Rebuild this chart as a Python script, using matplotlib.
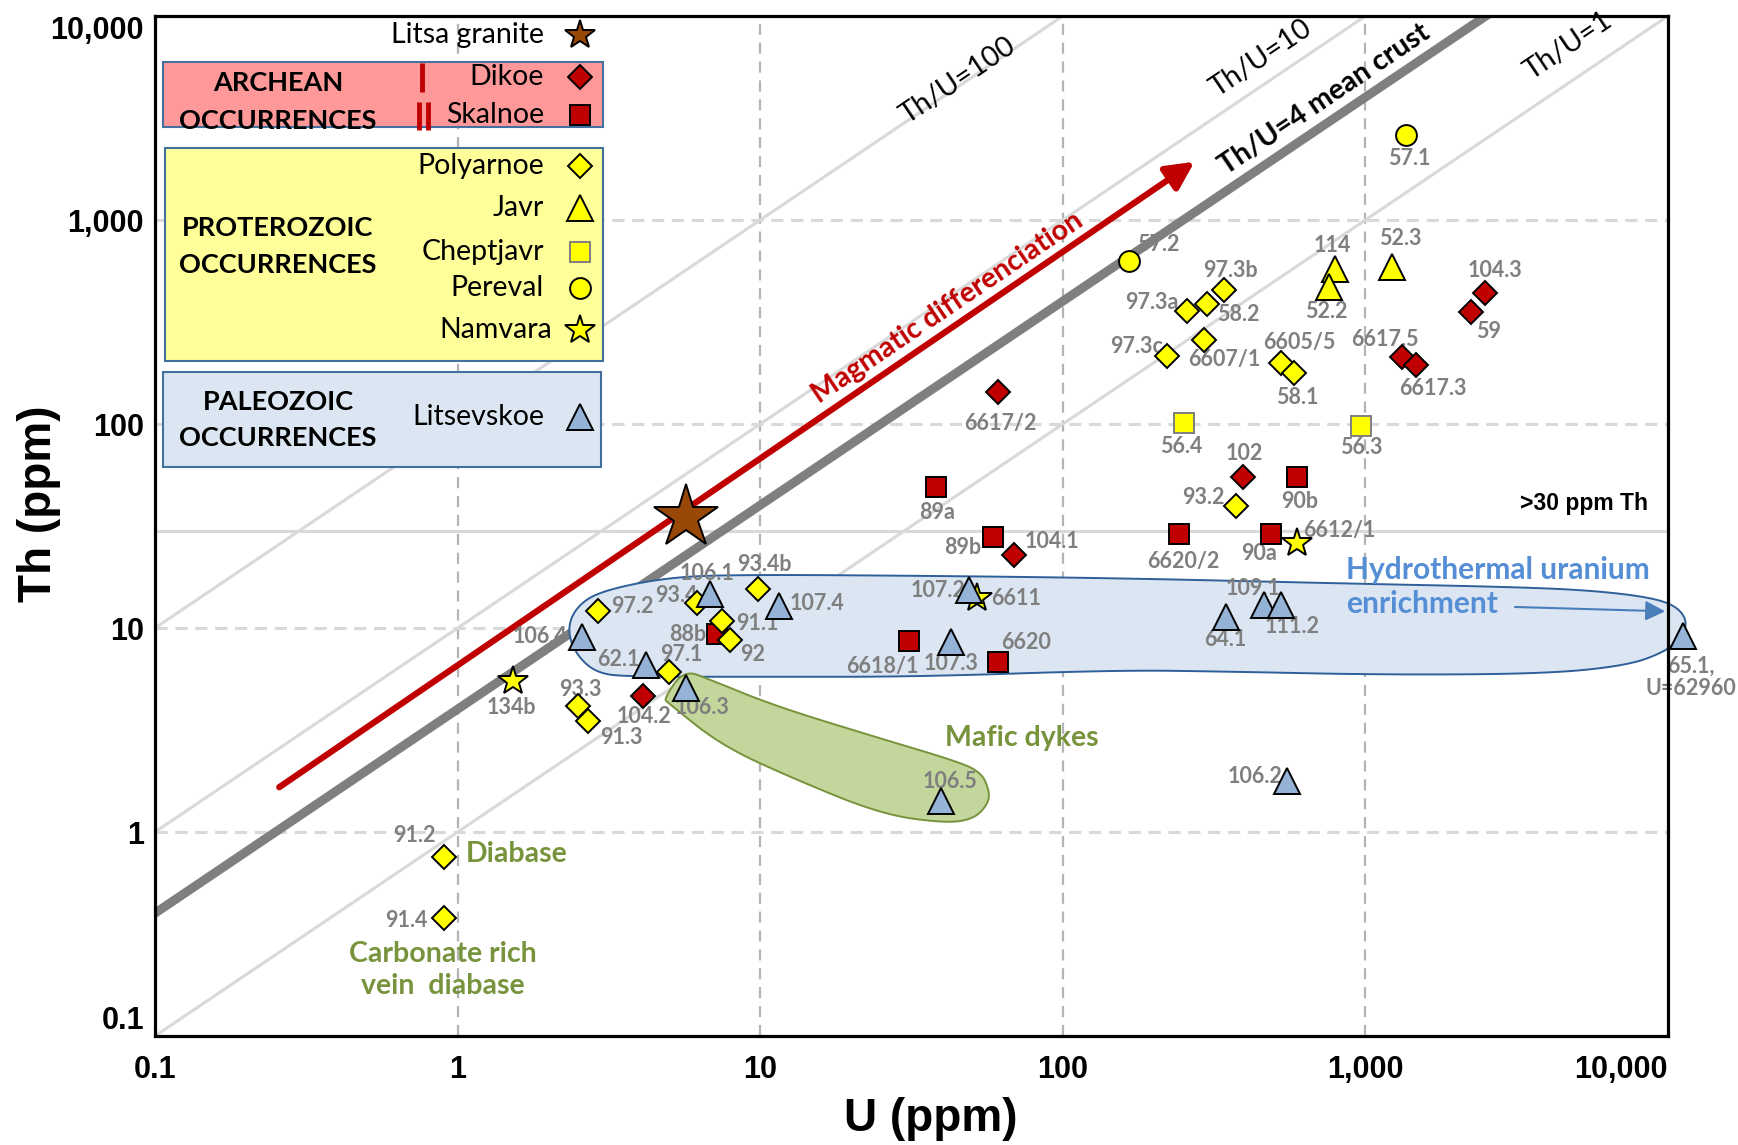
import numpy as np
import matplotlib
matplotlib.use('Agg')
import matplotlib.pyplot as plt
from matplotlib.patches import Polygon, Rectangle
from matplotlib.ticker import FixedLocator, NullLocator

# ---- data: U (ppm), Th (ppm), sample labels ----
dikoe_u = [61, 69, 395, 1320, 1470, 2490, 2230, 4.1]
dikoe_th = [144, 22.8, 55, 214, 194, 438, 354, 4.66]
dikoe_lab = ['6617/2', '104.1', '102', '6617.5', '6617.3', '104.3', '59', '104.2']

skalnoe_u = [38, 59, 242, 488, 593, 7.2, 31, 61]
skalnoe_th = [49, 28, 29, 29, 55, 9.3, 8.6, 6.8]
skalnoe_lab = ['89a', '89b', '6620/2', '90a', '90b', '88b', '6618/1', '6620']

polyarnoe_u = [2.9, 6.2, 9.8, 7.45, 7.96, 5.0, 2.5, 2.7, 0.9, 0.9,
               373, 257, 299, 340, 292, 221, 527, 583]
polyarnoe_th = [12.1, 13.2, 15.5, 10.8, 8.7, 6.06, 4.16, 3.5, 0.75, 0.38,
                39.6, 358, 386, 454, 259, 215, 199, 178]
polyarnoe_lab = ['97.2', '93.4', '93.4b', '91.1', '92', '97.1', '93.3', '91.3', '91.2', '91.4',
                 '93.2', '97.3a', '58.2', '97.3b', '6607/1', '97.3c', '6605/5', '58.1']

javr_u = [796, 757, 1222]
javr_th = [577, 472, 591]
javr_lab = ['114', '52.2', '52.3']

cheptjavr_u = [251, 967]
cheptjavr_th = [101, 97.5]
cheptjavr_lab = ['56.4', '56.3']

pereval_u = [166, 1367]
pereval_th = [629, 2620]
pereval_lab = ['57.2', '57.1']

namvara_u = [1.52, 52, 593]
namvara_th = [5.48, 14, 26.2]
namvara_lab = ['134b', '6611', '6612/1']

litsevskoe_u = [2.57, 6.8, 11.5, 4.2, 5.7, 48.8, 42.7, 39.5, 345, 464, 527, 549, 11200]
litsevskoe_th = [9.05, 14.6, 12.8, 6.6, 5.1, 15.3, 8.5, 1.42, 11.3, 13.0, 13.0, 1.78, 9.16]
litsevskoe_lab = ['106.4', '106.1', '107.4', '62.1', '106.3', '107.2', '107.3', '106.5',
                  '64.1', '109.1', '111.2', '106.2', '65.1,\nU=62960']

litsa_u = [5.7]
litsa_th = [35]

ratios = [100, 10, 1]
ticks = [0.1, 1, 10, 100, 1000, 10000]
tick_labels = ['0.1', '1', '10', '100', '1,000', '10,000']

# label offsets (points) relative to marker
offs = {
    '6617/2': (2, -23), '104.1': (27, 10), '102': (1, 17), '6617.5': (-12, 12),
    '6617.3': (12, -17), '104.3': (7, 16), '59': (13, -14), '104.2': (1, -15),
    '89a': (1, -18), '89b': (-22, -8), '6620/2': (3, -20), '90a': (-9, -14),
    '90b': (2, -18), '88b': (-21, 0), '6618/1': (-19, -18), '6620': (20, 14),
    '97.2': (25, 3), '93.4': (-15, 6), '93.4b': (5, 18), '91.1': (26, -2),
    '92': (16, -10), '97.1': (9, 13), '93.3': (2, 12), '91.3': (24, -12),
    '91.2': (-21, 16), '91.4': (-27, -2), '93.2': (-23, 6), '97.3a': (-25, 6),
    '58.2': (23, -7), '97.3b': (5, 14), '6607/1': (15, -14), '97.3c': (-22, 7),
    '6605/5': (13, 15), '58.1': (2, -18), '114': (-2, 17), '52.2': (-2, -18),
    '52.3': (6, 20), '56.4': (-2, -17), '56.3': (0, -15), '57.2': (21, 12),
    '57.1': (2, -17), '134b': (-1, -19), '6611': (28, 0), '6612/1': (31, 9),
    '106.4': (-30, 0), '106.1': (-2, 15), '107.4': (28, 2), '62.1': (-20, 4),
    '106.3': (11, -14), '107.2': (-22, 0), '107.3': (0, -15), '106.5': (7, 14),
    '64.1': (0, -16), '109.1': (-8, 12), '111.2': (8, -16), '106.2': (-23, 3),
    '65.1,\nU=62960': (6, -30),
}

RED = '#C00000'
YEL = '#FFFF00'
BLU = '#95B3D7'
GREEN = '#77933C'
CAL = 'Lato'

fig = plt.figure(figsize=(17.38, 11.45), dpi=100)
ax = fig.add_axes([0.0892, 0.0952, 0.8705, 0.8908])
ax.set_xscale('log')
ax.set_yscale('log')
ax.set_xlim(0.1, 10000)
ax.set_ylim(0.1, 10000)

# grid
for v in [1, 10, 100, 1000]:
    ax.axvline(v, color='#B4B4B4', lw=1.6, ls=(0, (5, 3.5)), zorder=0.5)
    ax.axhline(v, color='#D9D9D9', lw=2.2, ls=(0, (4, 2.5)), zorder=0.5)
ax.axhline(30, color='#D9D9D9', lw=2.2, zorder=0.5)
ax.text(0.9866, 41, '>30 ppm Th', transform=ax.get_yaxis_transform(), ha='right', va='center',
        fontsize=16.5, fontweight='bold', family='Liberation Sans')

# Th/U ratio lines
uu = np.array([0.01, 1e6])
for r in ratios:
    ax.plot(uu, r * uu, color='#D9D9D9', lw=2.2, zorder=1)
ax.plot(uu, 4 * uu, color='#7F7F7F', lw=6.5, zorder=1.2, solid_capstyle='butt')

ax.text(0.5311, 0.9370, 'Th/U=100', transform=ax.transAxes, rotation=34, ha='center', va='center',
        fontsize=20.5, family=CAL)
ax.text(0.7311, 0.9587, 'Th/U=10', transform=ax.transAxes, rotation=34, ha='center', va='center',
        fontsize=20.5, family=CAL)
ax.text(0.9341, 0.9707, 'Th/U=1', transform=ax.transAxes, rotation=34, ha='center', va='center',
        fontsize=20.5, family=CAL)
ax.text(0.7729, 0.9185, 'Th/U=4 mean crust', transform=ax.transAxes, rotation=34, ha='center',
        va='center', fontsize=20.5, fontweight='bold', family=CAL)

# magmatic differentiation arrow
ax.annotate('', xy=(0.6886, 0.8587), xytext=(0.0806, 0.2424), xycoords='axes fraction',
            arrowprops=dict(arrowstyle='-|>', lw=4.5, color=RED, mutation_scale=42), zorder=2.5)
ax.text(0.5238, 0.7141, 'Magmatic differenciation', transform=ax.transAxes, rotation=34,
        ha='center', va='center', fontsize=20.5, fontweight='bold', color=RED, family=CAL)


def chaikin(pts, n=4):
    p = np.asarray(pts, dtype=float)
    for _ in range(n):
        q = np.roll(p, -1, axis=0)
        p = np.column_stack([0.75 * p + 0.25 * q, 0.25 * p + 0.75 * q]).reshape(-1, 2)
    return p


# envelopes (axes fraction outlines)
hydro_outline = [(0.2725, 0.3992), (0.2784, 0.4207), (0.2941, 0.4362), (0.3388, 0.4497),
                 (0.3859, 0.4523), (0.5033, 0.4513), (0.6370, 0.4489), (0.7851, 0.4437),
                 (0.8927, 0.4404), (0.9464, 0.4372), (0.9868, 0.4305), (1.0056, 0.4217),
                 (1.0131, 0.4060), (1.0083, 0.3896), (0.9975, 0.3764), (0.9733, 0.3633),
                 (0.9196, 0.3551), (0.8120, 0.3541), (0.7045, 0.3574), (0.6370, 0.3587),
                 (0.5033, 0.3522), (0.4094, 0.3522), (0.3153, 0.3522), (0.2918, 0.3554),
                 (0.2777, 0.3750)]
mafic_outline = [(0.3365, 0.3308), (0.3495, 0.3590), (0.3670, 0.3493), (0.4094, 0.3237),
                 (0.4799, 0.2915), (0.5270, 0.2707), (0.5458, 0.2593), (0.5516, 0.2402),
                 (0.5505, 0.2272), (0.5411, 0.2127), (0.5223, 0.2087), (0.4799, 0.2174),
                 (0.4211, 0.2529), (0.3741, 0.2851), (0.3388, 0.3270)]
ax.add_patch(Polygon(chaikin(hydro_outline), closed=True, transform=ax.transAxes, fc='#DCE6F2',
                     ec='#2F5F98', lw=1.4, zorder=2, clip_on=False))
ax.add_patch(Polygon(chaikin(mafic_outline), closed=True, transform=ax.transAxes, fc='#C3D69B',
                     ec='#77933C', lw=1.4, zorder=2, clip_on=False))

ax.text(0.7875, 0.4565, 'Hydrothermal uranium', transform=ax.transAxes, ha='left', va='center',
        fontsize=21.5, fontweight='bold', color='#558ED5', family=CAL)
ax.text(0.7875, 0.4239, 'enrichment', transform=ax.transAxes, ha='left', va='center',
        fontsize=21.5, fontweight='bold', color='#558ED5', family=CAL)
ax.annotate('', xy=(1.0, 0.4163), xytext=(0.897, 0.4207), xycoords='axes fraction',
            arrowprops=dict(arrowstyle='-|>', lw=1.5, color='#4A7EBB', mutation_scale=30), zorder=3)
ax.text(0.5729, 0.2924, 'Mafic dykes', transform=ax.transAxes, ha='center', va='center',
        fontsize=20.5, fontweight='bold', color=GREEN, family=CAL)
ax.text(0.2051, 0.1783, 'Diabase', transform=ax.transAxes, ha='left', va='center',
        fontsize=20.5, fontweight='bold', color=GREEN, family=CAL)
ax.text(0.1905, 0.0804, 'Carbonate rich', transform=ax.transAxes, ha='center', va='center',
        fontsize=20.5, fontweight='bold', color=GREEN, family=CAL)
ax.text(0.1905, 0.0489, 'vein  diabase', transform=ax.transAxes, ha='center', va='center',
        fontsize=20.5, fontweight='bold', color=GREEN, family=CAL)

# marker styles
st_dik = dict(marker='D', ms=12, mfc=RED, mec='black')
st_ska = dict(marker='s', ms=14.5, mfc=RED, mec='black')
st_pol = dict(marker='D', ms=12, mfc=YEL, mec='black')
st_jav = dict(marker='^', ms=18.5, mfc=YEL, mec='black')
st_che = dict(marker='s', ms=15, mfc=YEL, mec='#7F7F7F')
st_per = dict(marker='o', ms=15, mfc=YEL, mec='black')
st_nam = dict(marker='*', ms=22, mfc=YEL, mec='black')
st_lit = dict(marker='^', ms=18.5, mfc=BLU, mec='black')

series = [
    (dikoe_u, dikoe_th, dikoe_lab, st_dik),
    (skalnoe_u, skalnoe_th, skalnoe_lab, st_ska),
    (polyarnoe_u, polyarnoe_th, polyarnoe_lab, st_pol),
    (javr_u, javr_th, javr_lab, st_jav),
    (cheptjavr_u, cheptjavr_th, cheptjavr_lab, st_che),
    (pereval_u, pereval_th, pereval_lab, st_per),
    (namvara_u, namvara_th, namvara_lab, st_nam),
    (litsevskoe_u, litsevskoe_th, litsevskoe_lab, st_lit),
]
for u, th, labs, st in series:
    ax.plot(u, th, ls='none', mew=1.4, zorder=4, clip_on=False, **st)
    for x, y, s in zip(u, th, labs):
        dx, dy = offs[s]
        ax.annotate(s, (x, y), xytext=(dx, dy), textcoords='offset points', ha='center',
                    va='center', fontsize=15.5, fontweight='bold', color='#7F7F7F', family=CAL,
                    zorder=3, annotation_clip=False, linespacing=1.1)
ax.plot(litsa_u, litsa_th, ls='none', marker='*', ms=48, mfc='#984807', mec='black', mew=1.4,
        zorder=4)

# legend boxes
tA = ax.transAxes
ax.add_patch(Rectangle((0.0053, 0.8912), 0.2908, 0.0637, transform=tA, fc='#FF9999',
                       ec='#41719C', lw=1.5, zorder=5))
ax.add_patch(Rectangle((0.0066, 0.6618), 0.2895, 0.2088, transform=tA, fc='#FFFF99',
                       ec='#41719C', lw=1.5, zorder=5))
ax.add_patch(Rectangle((0.0053, 0.5578), 0.2895, 0.0932, transform=tA, fc='#DCE6F2',
                       ec='#41719C', lw=1.5, zorder=5))
for txt, y in [('ARCHEAN', 0.9343), ('OCCURRENCES', 0.8971), ('PROTEROZOIC', 0.7922),
               ('OCCURRENCES', 0.7559), ('PALEOZOIC', 0.6216), ('OCCURRENCES', 0.5863)]:
    ax.text(0.0813, y, txt, transform=tA, ha='center', va='center', fontsize=19.5,
            fontweight='bold', family=CAL, zorder=6)
ax.plot([0.1765, 0.1765], [0.9255, 0.9539], transform=tA, color=RED, lw=3.5, zorder=6,
        solid_capstyle='butt')
for bx in [0.1745, 0.1805]:
    ax.plot([bx, bx], [0.8882, 0.9157], transform=tA, color=RED, lw=3.5, zorder=6,
            solid_capstyle='butt')

leg_items = [
    ('Litsa granite', 0.9814, dict(marker='*', ms=22, mfc='#984807', mec='black')),
    ('Dikoe', 0.9402, st_dik),
    ('Skalnoe', 0.9029, st_ska),
    ('Polyarnoe', 0.8529, st_pol),
    ('Javr', 0.8118, st_jav),
    ('Cheptjavr', 0.7686, st_che),
    ('Pereval', 0.7333, st_per),
    ('Namvara', 0.6922, st_nam),
    ('Litsevskoe', 0.6069, st_lit),
]
for name, y, st in leg_items:
    xr = 0.2627 if name == 'Namvara' else 0.2571
    ax.text(xr, y, name, transform=tA, ha='right', va='center', fontsize=20.5, family=CAL, zorder=6)
    ax.plot([0.2809], [y], transform=tA, ls='none', mew=1.4, zorder=6, clip_on=False, **st)

# axes styling
for sp in ax.spines.values():
    sp.set_linewidth(2.3)
    sp.set_color('black')
    sp.set_zorder(7)
ax.xaxis.set_major_locator(FixedLocator(ticks))
ax.yaxis.set_major_locator(FixedLocator(ticks))
ax.xaxis.set_minor_locator(NullLocator())
ax.yaxis.set_minor_locator(NullLocator())
ax.set_xticklabels(tick_labels, fontsize=22, fontweight='bold', family='Liberation Sans')
ax.set_yticklabels(tick_labels, fontsize=22, fontweight='bold', family='Liberation Sans')
ax.tick_params(axis='both', length=0)
ax.tick_params(axis='x', pad=14)
ax.tick_params(axis='y', pad=8)
ax.get_xticklabels()[-1].set_ha('right')
ax.get_yticklabels()[-1].set_va('top')
ax.get_yticklabels()[0].set_va('bottom')

fig.text(0.5357, 0.0227, 'U (ppm)', ha='center', va='center', fontsize=33, fontweight='bold',
         family='Liberation Sans')
fig.text(0.0224, 0.5598, 'Th (ppm)', ha='center', va='center', rotation=90, fontsize=33,
         fontweight='bold', family='Liberation Sans')

fig.savefig('out.png', dpi=100)
